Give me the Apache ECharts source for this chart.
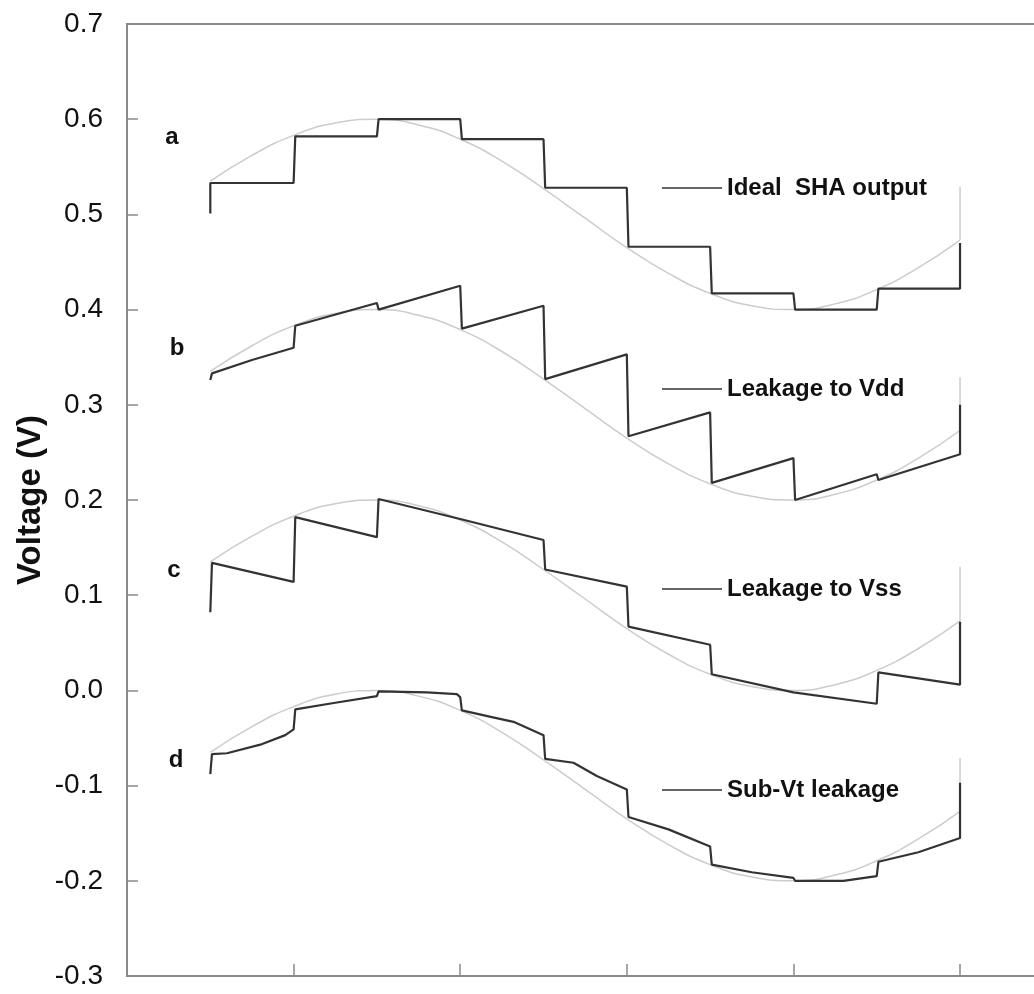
<!DOCTYPE html>
<html>
<head>
<meta charset="utf-8">
<script src="https://cdn.jsdelivr.net/npm/echarts@6/dist/echarts.min.js"></script>
<style>
html,body{margin:0;padding:0;background:#fff;overflow:hidden;}
#chart{width:1060px;height:994px;}
</style>
</head>
<body>
<div id="chart"></div>
<script>
// Time samples of the ideal sine (x axis units, one tick = 1)
var idealT = [0.5,0.75,1.0,1.25,1.5,1.75,2.0,2.25,2.5,2.75,3.0,3.25,3.5,3.75,4.0,4.25,4.5,4.75,5.0];
var idealA = [0.535,0.562,0.583,0.596,0.600,0.594,0.579,0.556,0.527,0.496,0.465,0.438,0.417,0.404,0.400,0.406,0.421,0.444,0.473];
var idealB = [0.335,0.362,0.383,0.396,0.400,0.394,0.379,0.356,0.327,0.296,0.265,0.238,0.217,0.204,0.200,0.206,0.221,0.244,0.273];
var idealC = [0.135,0.162,0.183,0.196,0.200,0.194,0.179,0.156,0.127,0.096,0.065,0.038,0.017,0.004,0.000,0.006,0.021,0.044,0.073];
var idealD = [-0.065,-0.038,-0.017,-0.004,0.000,-0.006,-0.021,-0.044,-0.073,-0.104,-0.135,-0.162,-0.183,-0.196,-0.200,-0.194,-0.179,-0.156,-0.127];
// value the gray trace jumps back to at the end of the record
var idealWrap = [0.529, 0.329, 0.130, -0.071];

// a: Ideal SHA output
var sampledA = [[0.5,0.501],[0.5,0.533],[1.0,0.533],[1.01,0.582],[1.5,0.582],[1.51,0.600],[2.0,0.600],[2.01,0.579],[2.5,0.579],[2.51,0.528],[3.0,0.528],[3.01,0.466],[3.5,0.466],[3.51,0.417],[4.0,0.417],[4.01,0.400],[4.5,0.400],[4.51,0.422],[5.0,0.422],[5.0,0.470]];
// b: Leakage to Vdd
var sampledB = [[0.5,0.326],[0.51,0.333],[0.75,0.347],[1.0,0.360],[1.01,0.383],[1.5,0.407],[1.51,0.400],[2.0,0.425],[2.01,0.380],[2.5,0.404],[2.51,0.327],[3.0,0.353],[3.01,0.267],[3.5,0.292],[3.51,0.218],[4.0,0.244],[4.01,0.200],[4.5,0.227],[4.51,0.221],[5.0,0.248],[5.0,0.300]];
// c: Leakage to Vss
var sampledC = [[0.5,0.082],[0.51,0.134],[1.0,0.114],[1.01,0.182],[1.5,0.161],[1.51,0.201],[2.0,0.180],[2.01,0.179],[2.5,0.158],[2.51,0.127],[3.0,0.109],[3.01,0.067],[3.5,0.048],[3.51,0.017],[4.0,-0.002],[4.5,-0.014],[4.51,0.019],[5.0,0.006],[5.0,0.072]];
// d: Sub-Vt leakage
var sampledD = [[0.5,-0.088],[0.51,-0.067],[0.6,-0.066],[0.8,-0.057],[0.95,-0.047],[1.0,-0.041],[1.01,-0.020],[1.25,-0.013],[1.5,-0.006],[1.51,-0.001],[1.8,-0.002],[1.98,-0.004],[2.0,-0.007],[2.01,-0.021],[2.19,-0.028],[2.32,-0.033],[2.5,-0.047],[2.51,-0.072],[2.68,-0.076],[2.82,-0.090],[3.0,-0.104],[3.01,-0.133],[3.25,-0.146],[3.5,-0.164],[3.51,-0.183],[3.75,-0.191],[4.0,-0.197],[4.01,-0.200],[4.3,-0.200],[4.5,-0.195],[4.51,-0.180],[4.75,-0.170],[5.0,-0.155],[5.0,-0.097]];

var curveLetters = ['a','b','c','d'];
var legendNames = ['Ideal  SHA output','Leakage to Vdd','Leakage to Vss','Sub-Vt leakage'];
var yTicks = [-0.3,-0.2,-0.1,0.0,0.1,0.2,0.3,0.4,0.5,0.6,0.7];

function idealSeries(vals, wrap) {
  var d = idealT.map(function(t,i){return [t, vals[i]];});
  var last = d[d.length-1];
  d.push('-');
  d.push([last[0], last[1]]);
  d.push([last[0], wrap]);
  return {
    type:'line', data:d, smooth:true, showSymbol:false, symbol:'none',
    lineStyle:{color:'#cccccc', width:1.5}, z:2, silent:true, animation:false,
    connectNulls:false
  };
}
function sampledSeries(d) {
  return {
    type:'line', data:d, showSymbol:false, symbol:'none',
    lineStyle:{color:'#333333', width:2.2}, z:3, silent:true, animation:false
  };
}

var chart = echarts.init(document.getElementById('chart'), null, {renderer:'canvas'});

var gridLeft = 127, gridTop = 24, gridBottom = 18;
var legendY = [188, 389, 589, 790];
var letterPos = [[172,137],[177,348],[174,570],[176,760]];

var graphics = [];
legendNames.forEach(function(n,i){
  graphics.push({type:'line', shape:{x1:662,y1:legendY[i],x2:722,y2:legendY[i]}, style:{stroke:'#333', lineWidth:1.5}, z:10});
  graphics.push({type:'text', x:727, y:legendY[i], style:{text:n, font:'bold 24px "Liberation Sans", Arial, sans-serif', fill:'#111', textVerticalAlign:'middle', textAlign:'left'}, z:10});
});
curveLetters.forEach(function(l,i){
  graphics.push({type:'text', x:letterPos[i][0], y:letterPos[i][1], style:{text:l, font:'bold 24px "Liberation Sans", Arial, sans-serif', fill:'#111', textAlign:'center', textVerticalAlign:'middle'}, z:10});
});
graphics.push({type:'text', x:31, y:500, rotation:Math.PI/2, style:{text:'Voltage (V)', font:'bold 33px "Liberation Sans", Arial, sans-serif', fill:'#111', textAlign:'center', textVerticalAlign:'middle'}, z:10});

chart.setOption({
  animation:false,
  backgroundColor:'#fff',
  grid:{left:gridLeft, top:gridTop, bottom:gridBottom, right:0, show:true, borderColor:'#8a8a8a', borderWidth:2, containLabel:false},
  xAxis:{type:'value', min:0, max:5.6, interval:1,
    axisLine:{show:true, onZero:false, lineStyle:{color:'#8a8a8a', width:2}},
    axisTick:{show:true, inside:true, length:12, lineStyle:{color:'#8a8a8a', width:1.5}},
    axisLabel:{show:false}, splitLine:{show:false}},
  yAxis:{type:'value', min:-0.3, max:0.7, interval:0.1,
    axisLine:{show:true, lineStyle:{color:'#8a8a8a', width:2}},
    axisTick:{show:true, inside:true, length:11, lineStyle:{color:'#8a8a8a', width:1.5}},
    axisLabel:{show:true, margin:24, color:'#111', fontSize:28, fontFamily:'"Liberation Sans", Arial, sans-serif',
      formatter:function(v){return Number(v).toFixed(1);}},
    splitLine:{show:false}},
  graphic:graphics,
  series:[
    idealSeries(idealA, idealWrap[0]),
    idealSeries(idealB, idealWrap[1]),
    idealSeries(idealC, idealWrap[2]),
    idealSeries(idealD, idealWrap[3]),
    sampledSeries(sampledA),
    sampledSeries(sampledB),
    sampledSeries(sampledC),
    sampledSeries(sampledD)
  ]
});
</script>
</body>
</html>
